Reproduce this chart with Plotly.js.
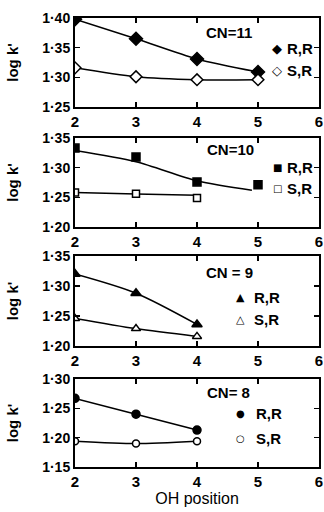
<!DOCTYPE html>
<html>
<head>
<meta charset="utf-8">
<script src="https://cdn.plot.ly/plotly-3.0.1.min.js"></script>
<style>html,body{margin:0;padding:0;background:#fff;}#chart{width:324px;height:512px;}</style>
</head>
<body>
<div id="chart"></div>
<script>
// OH position (x) for every panel
const ohPos = [2, 3, 4, 5];

// CN = 11
const cn11RR = [1.398, 1.365, 1.331, 1.309];
const cn11SR = [1.316, 1.301, 1.296, 1.296];

// CN = 10 (measured points)
const cn10RR = [1.333, 1.318, 1.276, 1.271];
const cn10SR = [1.258, 1.256, 1.249];
// CN = 10 fitted curves
const cn10RRfitX = [2, 3, 4, 4.9];
const cn10RRfitY = [1.329, 1.310, 1.278, 1.262];
const cn10SRfitX = [2, 3, 4];
const cn10SRfitY = [1.258, 1.2556, 1.2535];

// CN = 9
const cn9RR = [1.320, 1.288, 1.236];
const cn9SR = [1.246, 1.229, 1.216];

// CN = 8
const cn8RR = [1.267, 1.240, 1.213];
const cn8SR = [1.194, 1.190, 1.194];

// axis ticks
const xTicks = [2, 3, 4, 5, 6];
const yTicks11 = [1.25, 1.30, 1.35, 1.40];
const yTicks10 = [1.20, 1.25, 1.30, 1.35];
const yTicks9 = [1.20, 1.25, 1.30, 1.35];
const yTicks8 = [1.15, 1.20, 1.25, 1.30];
const tickLabel = v => v.toFixed(2).replace('.', '\u00B7');

const panelLabels = ['CN=11', 'CN=10', 'CN = 9', 'CN= 8'];
const seriesLabels = ['R,R', 'S,R'];

const FONT = 'Liberation Sans, Arial, sans-serif';
const BLK = '#000';

function lineTrace(x, y, ax, shape) {
  return {x: x, y: y, xaxis: 'x' + ax, yaxis: 'y' + ax, mode: 'lines',
    line: {color: BLK, width: 1.5, shape: shape || 'linear', smoothing: 0.8},
    showlegend: false, hoverinfo: 'skip'};
}
function markTrace(x, y, ax, sym, filled, size) {
  return {x: x, y: y, xaxis: 'x' + ax, yaxis: 'y' + ax, mode: 'markers',
    marker: {symbol: sym, size: size, color: filled ? BLK : '#fff', line: {color: BLK, width: 1.5}},
    showlegend: false};
}

const data = [
  lineTrace(ohPos, cn11RR, '', 'spline'),
  lineTrace(ohPos, cn11SR, '', 'spline'),
  markTrace(ohPos, cn11RR, '', 'diamond', true, 10),
  markTrace(ohPos, cn11SR, '', 'diamond', false, 9),

  lineTrace(cn10RRfitX, cn10RRfitY, '2', 'spline'),
  lineTrace(cn10SRfitX, cn10SRfitY, '2', 'spline'),
  markTrace(ohPos, cn10RR, '2', 'square', true, 8),
  markTrace(ohPos.slice(0, 3), cn10SR, '2', 'square', false, 7),

  lineTrace(ohPos.slice(0, 3), cn9RR, '3', 'spline'),
  lineTrace(ohPos.slice(0, 3), cn9SR, '3', 'spline'),
  markTrace(ohPos.slice(0, 3), cn9RR, '3', 'triangle-up', true, 9),
  markTrace(ohPos.slice(0, 3), cn9SR, '3', 'triangle-up', false, 8),

  lineTrace(ohPos.slice(0, 3), cn8RR, '4', 'spline'),
  lineTrace(ohPos.slice(0, 3), cn8SR, '4', 'spline'),
  markTrace(ohPos.slice(0, 3), cn8RR, '4', 'circle', true, 8),
  markTrace(ohPos.slice(0, 3), cn8SR, '4', 'circle', false, 7)
];

// plot area geometry
const L = 75, R = 5, T = 18, B = 45, W = 324, H = 512;
const PH = H - T - B, PW = W - L - R;
const fy = py => (H - B - py) / PH;
const fx = px => (px - L) / PW;

const domains = [[fy(107), 1], [fy(227), fy(138)], [fy(346), fy(256)], [0, fy(379)]];
const yRanges = [[1.25, 1.40], [1.20, 1.35], [1.20, 1.35], [1.15, 1.30]];
const yTickSets = [yTicks11, yTicks10, yTicks9, yTicks8];

const layout = {
  width: W, height: H,
  margin: {l: L, r: R, t: T, b: B},
  paper_bgcolor: '#fff', plot_bgcolor: '#fff',
  font: {family: FONT, color: BLK, size: 14},
  showlegend: false,
  annotations: []
};

for (let i = 0; i < 4; i++) {
  const s = i === 0 ? '' : String(i + 1);
  layout['xaxis' + s] = {
    anchor: 'y' + s, domain: [0, 1], range: [2, 6],
    tickvals: xTicks, ticktext: xTicks.map(String),
    ticks: 'inside', ticklen: 5, tickwidth: 1.5, tickcolor: BLK,
    showline: true, linecolor: BLK, linewidth: 2, mirror: 'ticks',
    showgrid: false, zeroline: false,
    tickfont: {family: FONT, size: 15, weight: 'bold'},
    fixedrange: true
  };
  layout['yaxis' + s] = {
    anchor: 'x' + s, domain: domains[i], range: yRanges[i],
    tickvals: yTickSets[i], ticktext: yTickSets[i].map(tickLabel),
    ticks: 'inside', ticklen: 5, tickwidth: 1.5, tickcolor: BLK,
    showline: true, linecolor: BLK, linewidth: 2, mirror: 'ticks',
    showgrid: false, zeroline: false,
    tickfont: {family: FONT, size: 14, weight: 'bold'},
    title: {text: "log k'", font: {family: FONT, size: 15, weight: 'bold'}, standoff: 20},
    fixedrange: true
  };
}
layout.xaxis4.title = {text: 'OH position', font: {family: FONT, size: 16}, standoff: 0};

// panel labels & legend keys
const labelPos = [[229, 33], [230, 149], [229, 272], [228, 392]];
const keyPos = [
  [[277, 48], [277, 70], 285],
  [[277, 168], [277, 188], 285],
  [[240, 297], [240, 319], 252],
  [[240, 413], [240, 438], 254]
];
const glyphs = [['\u25C6', '\u25C7'], ['\u25A0', '\u25A1'], ['\u25B2', '\u25B3'], ['\u25CF', '\u25CB']];
const glyphSize = [13, 10, 11, 10];

for (let i = 0; i < 4; i++) {
  layout.annotations.push({
    xref: 'paper', yref: 'paper', x: fx(labelPos[i][0]), y: fy(labelPos[i][1]),
    xanchor: 'center', yanchor: 'middle', showarrow: false,
    text: panelLabels[i], font: {family: FONT, size: 15, weight: 'bold'}
  });
  for (let j = 0; j < 2; j++) {
    const p = keyPos[i][j];
    layout.annotations.push({
      xref: 'paper', yref: 'paper', x: fx(p[0]), y: fy(p[1]),
      xanchor: 'center', yanchor: 'middle', showarrow: false,
      text: glyphs[i][j], font: {family: 'DejaVu Sans', size: glyphSize[i]}
    });
    layout.annotations.push({
      xref: 'paper', yref: 'paper', x: fx(keyPos[i][2]), y: fy(p[1]),
      xanchor: 'left', yanchor: 'middle', showarrow: false,
      text: seriesLabels[j], font: {family: FONT, size: 15, weight: 'bold'}
    });
  }
}

Plotly.newPlot('chart', data, layout, {displayModeBar: false, staticPlot: true});
</script>
</body>
</html>
